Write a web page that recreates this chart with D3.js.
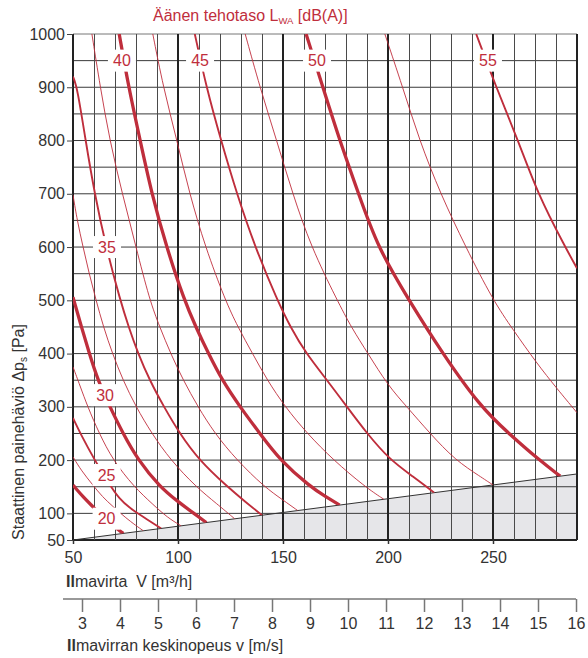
<!DOCTYPE html>
<html><head><meta charset="utf-8">
<script src="https://cdn.jsdelivr.net/npm/d3@7"></script>
<style>
body{margin:0;background:#fff;}
svg{display:block;font-family:"Liberation Sans",Arial,Helvetica,sans-serif;}
</style></head><body>
<svg id="chart" width="588" height="658"></svg>
<script>
// ---- data ----
const airflowTicks = [50, 100, 150, 200, 250];
const pressureTicks = [50, 100, 200, 300, 400, 500, 600, 700, 800, 900, 1000];
const velocityTicks = [3, 4, 5, 6, 7, 8, 9, 10, 11, 12, 13, 14, 15, 16];
const levels = [20, 22.5, 25, 27.5, 30, 32.5, 35, 37.5, 40, 42.5, 45, 47.5, 50, 52.5, 55];
// [airflow m3/h, pressure Pa]
const curve20   = [[50,153],[55,130],[59.5,112.6],[65,90],[70.5,72],[74,62.4]];
const curve22_5 = [[50,206],[54,180],[59.5,153],[64,131],[69,113],[75,92],[80,77],[83.5,67.3]];
const curve25   = [[50,279],[53.5,250],[60.3,200],[68,150],[72,128],[77,110],[82,97],[92,71.7]];
const curve27_5 = [[50,375],[53.3,340],[57,300],[62.5,250],[69,200],[79,150],[88,117],[95,92],[101.5,76.6]];
const curve30   = [[50,506],[54,450],[57.8,400],[61.8,350],[67.6,300],[73.8,250],[81,200],[91.3,150],[100,122],[107.5,100],[113.5,82.8]];
const curve32_5 = [[50,698],[52,650],[54.8,600],[57.7,550],[61,500],[64.5,450],[68.8,400],[73.8,350],[80,300],[87.5,250],[96.5,200],[108.5,150],[118.5,118],[127,89.8]];
const curve35   = [[50,920],[52,900],[56,800],[60.3,700],[65.7,600],[72.5,500],[76.5,450],[81,400],[86.5,350],[93.3,300],[100.8,250],[110,200],[123.5,150],[132,122],[140,96.5]];
const curve37_5 = [[59,1000],[63,900],[67.5,800],[73.5,700],[80,600],[86.5,500],[91.3,450],[96.5,400],[102.5,350],[109.5,300],[117.5,250],[128,200],[141,150],[150,125],[157,105.3]];
const curve40   = [[72,1000],[76.5,900],[82,800],[87.5,700],[94.5,600],[103,500],[108.5,450],[114.5,400],[121,350],[129.5,300],[139,250],[148.5,200],[163,150],[170,132],[177,115.6]];
const curve42_5 = [[88,1000],[93,900],[99.5,800],[105.5,700],[113,600],[122.5,500],[128.5,450],[135.5,400],[142.5,350],[151,300],[161.5,250],[174,200],[189,150],[198,126.5]];
const curve45   = [[108,1000],[113.5,900],[120.5,800],[128,700],[136.7,600],[147.3,500],[153.5,450],[161,400],[171,350],[180.5,300],[190,250],[201,200],[212,169],[222,138.9]];
const curve47_5 = [[132,1000],[139,900],[147,800],[154.6,700],[163.4,600],[175.8,500],[182.7,448],[190.5,400],[200,340],[209,300],[220,250],[232,200],[244,169],[250,153.3]];
const curve50   = [[161,1000],[169,900],[177,800],[186,700],[195,600],[210,500],[226,400],[244,300],[257.5,250],[272,200],[282,169.9]];
const curve52_5 = [[198.5,1000],[207,900],[215,800],[225,700],[237,600],[250,500],[259.5,445],[270.8,382],[280.3,335],[290,289]];
const curve55   = [[242,1000],[251.5,900],[262,800],[271.3,700],[284.4,600],[290,560]];
const labelLevels   = [20, 25, 30, 35, 40, 45, 50, 55];
const labelFlow     = [66, 66, 65.3, 66.2, 73.3, 110.5, 166.2, 247.6];
const labelPressure = [90, 172, 322, 600, 950, 950, 950, 950];
const limitFlow = [50, 290];
const limitPressure = [50, 174];

// ---- setup ----
const RED = "#bf2e3c";
const svg = d3.select("#chart");
const x = d3.scaleLinear().domain([50, 290]).range([73, 577]);
const y = d3.scaleLinear().domain([50, 1000]).range([540, 34]);
const ductArea = Math.PI * 0.04 * 0.04; // 80 mm duct
const toVel = V => V / 3600 / ductArea;
const xv = d3.scaleLinear().domain([toVel(50), toVel(290)]).range([73, 577]);

// shaded area below limit line
const limitLine = limitFlow.map((f, i) => [f, limitPressure[i]]);
svg.append("path")
  .attr("d", d3.line().x(d => x(d[0])).y(d => y(d[1]))([[50,50], ...limitLine, [290,50]]) + "Z")
  .attr("fill", "#e6e6e9");

// grid
const g = svg.append("g");
d3.range(50, 1001, 50).forEach(p => {
  g.append("line").attr("x1", x(50)).attr("x2", x(290)).attr("y1", y(p)).attr("y2", y(p))
    .attr("stroke", p === 50 ? "#222" : (p === 1000 ? "#777" : "#3a3a3a"))
    .attr("stroke-width", p === 50 ? 2 : 1);
});
d3.range(50, 291, 10).forEach(f => {
  const major = f % 50 === 0 || f === 290;
  g.append("line").attr("x1", x(f)).attr("x2", x(f)).attr("y1", y(50)).attr("y2", y(1000))
    .attr("stroke", major ? "#222" : "#4a4a4a")
    .attr("stroke-width", major ? 2 : 1)
    .attr("shape-rendering", major ? null : "crispEdges");
});

// limit line
svg.append("path").attr("d", d3.line().x(d => x(d[0])).y(d => y(d[1]))(limitLine))
  .attr("fill", "none").attr("stroke", "#333").attr("stroke-width", 1);

// clip for curves
svg.append("clipPath").attr("id", "clipc").append("path")
  .attr("d", d3.line().x(d => x(d[0])).y(d => y(d[1]))([[50,1000],[290,1000],...limitLine.slice().reverse()]) + "Z");

const curveData = [curve20, curve22_5, curve25, curve27_5, curve30, curve32_5, curve35, curve37_5,
  curve40, curve42_5, curve45, curve47_5, curve50, curve52_5, curve55];
const lineGen = d3.line().x(d => x(d[0])).y(d => y(d[1])).curve(d3.curveBasis);
const cg = svg.append("g").attr("clip-path", "url(#clipc)");
curveData.forEach((pts, i) => {
  const L = levels[i];
  const w = L % 10 === 0 ? 3.3 : (L % 5 === 0 ? 1.9 : 0.9);
  cg.append("path").attr("d", lineGen(pts)).attr("fill", "none")
    .attr("stroke", RED).attr("stroke-width", w);
});

// curve labels
labelLevels.forEach((L, i) => {
  const cx = x(labelFlow[i]), cy = y(labelPressure[i]);
  svg.append("rect").attr("x", cx - 14).attr("y", cy - 11).attr("width", 28).attr("height", 22).attr("fill", "#fff");
  svg.append("text").attr("x", cx).attr("y", cy).attr("dy", "0.36em").attr("text-anchor", "middle")
    .attr("font-size", 16).attr("fill", RED).text(L);
});

// axes
const yAxis = svg.append("g").attr("transform", `translate(${x(50)},0)`)
  .call(d3.axisLeft(y).tickValues(pressureTicks).tickSize(6).tickPadding(2).tickFormat(d3.format("d")));
yAxis.select(".domain").remove();
yAxis.selectAll("line").attr("stroke", "#444");
yAxis.selectAll("text").attr("font-size", 16).attr("fill", "#333").attr("font-family", null);

const xAxis = svg.append("g").attr("transform", `translate(0,${y(50)})`)
  .call(d3.axisBottom(x).tickValues(airflowTicks).tickSize(4).tickPadding(7.5));
xAxis.select(".domain").remove();
xAxis.selectAll("line").attr("stroke", "#333").attr("stroke-width", 1.5);
xAxis.selectAll("text").attr("font-size", 16).attr("fill", "#333").attr("font-family", null);

const vAxis = svg.append("g").attr("transform", "translate(0,599)")
  .call(d3.axisBottom(xv).tickValues(velocityTicks).tickSize(13).tickPadding(6));
vAxis.select(".domain").remove();
vAxis.append("line").attr("x1", xv(2.5)).attr("x2", xv(16)).attr("y1", 0).attr("y2", 0)
  .attr("stroke", "#777").attr("stroke-width", 1.5);
vAxis.selectAll(".tick line").attr("stroke", "#777").attr("stroke-width", 1.5);
vAxis.selectAll("text").attr("font-size", 16).attr("fill", "#333").attr("font-family", null);

// titles
const t = svg.append("text").attr("x", 153).attr("y", 21).attr("font-size", 16).attr("fill", RED);
t.append("tspan").text("Äänen tehotaso L");
t.append("tspan").attr("font-size", 9.5).attr("dy", 3).text("WA");
t.append("tspan").attr("dy", -3).text(" [dB(A)]");

const yt = svg.append("text").attr("transform", "translate(23.5,432) rotate(-90)")
  .attr("text-anchor", "middle").attr("font-size", 16).attr("fill", "#333");
yt.append("tspan").text("Staattinen painehäviö Δp");
yt.append("tspan").attr("font-size", 10).attr("dy", 3).text("s");
yt.append("tspan").attr("dy", -3).text(" [Pa]");

const xt = svg.append("text").attr("x", 66).attr("y", 587).attr("font-size", 16).attr("fill", "#333")
  .style("white-space", "pre");
xt.append("tspan").attr("font-weight", "bold").text("Il");
xt.append("tspan").text("mavirta  V [m³/h]");

const vt = svg.append("text").attr("x", 67).attr("y", 651).attr("font-size", 16).attr("fill", "#333")
  .style("white-space", "pre");
vt.append("tspan").attr("font-weight", "bold").text("Il");
vt.append("tspan").text("mavirran keskinopeus v [m/s]");
</script>
</body></html>
